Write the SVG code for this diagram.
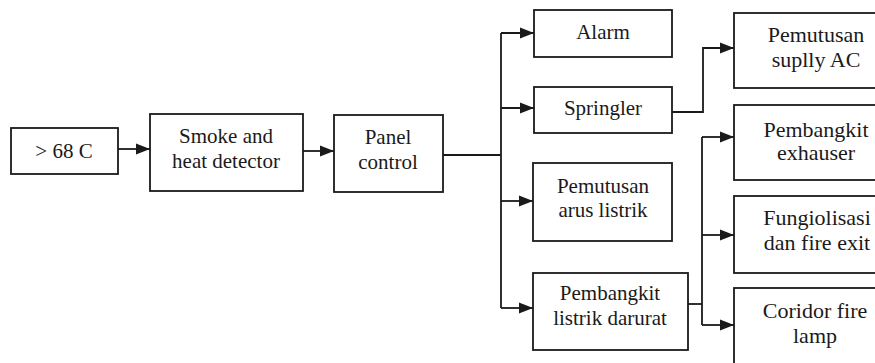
<svg xmlns="http://www.w3.org/2000/svg" width="875" height="363" viewBox="0 0 875 363">
<defs>
<marker id="ah" markerUnits="userSpaceOnUse" markerWidth="16" markerHeight="14" refX="15" refY="7" orient="auto">
<path d="M1,1.5 L15,7 L1,12.5 Z" fill="#1a1a1a"/>
</marker>
<style>
.box{fill:#fff;stroke:#1a1a1a;stroke-width:1.8}
.t{font-family:'Liberation Serif','Times New Roman','DejaVu Serif',serif;fill:#1a1a1a;text-anchor:middle}
.s20{font-size:21px}
.s21{font-size:21px}
.s22{font-size:22px}
.c{fill:none;stroke:#1a1a1a;stroke-width:1.8}
.a{marker-end:url(#ah)}
</style>
</defs>
<rect width="875" height="363" fill="#fff"/>
<g id="connectors">
<path class="c a" d="M118,149 H150"/>
<path class="c a" d="M303,151 H334"/>
<path class="c" d="M443,155 H501"/>
<path class="c" d="M501,33 V308"/>
<path class="c a" d="M501,33 H534"/>
<path class="c a" d="M501,108 H534"/>
<path class="c a" d="M501,201 H533"/>
<path class="c a" d="M501,308 H533"/>
<path class="c a" d="M672,112 H703 V48 H734"/>
<path class="c" d="M688,304 H702"/>
<path class="c" d="M702,137 V325"/>
<path class="c a" d="M702,137 H734"/>
<path class="c a" d="M702,235 H734"/>
<path class="c a" d="M702,325 H734"/>
</g>
<g id="n-temp">
<rect class="box" x="11" y="128" width="107" height="46"/>
<text class="t s20" x="64" y="158">&gt; 68 C</text>
</g>
<g id="n-detector">
<rect class="box" x="150" y="114" width="153" height="77"/>
<text class="t s20" x="226" y="143">Smoke and</text>
<text class="t s20" x="226" y="168">heat detector</text>
</g>
<g id="n-panel">
<rect class="box" x="334" y="115" width="109" height="77"/>
<text class="t s20" x="388" y="144">Panel</text>
<text class="t s20" x="388" y="169">control</text>
</g>
<g id="n-alarm">
<rect class="box" x="534" y="10" width="138" height="47"/>
<text class="t s21" x="603" y="39">Alarm</text>
</g>
<g id="n-springler">
<rect class="box" x="534" y="87" width="138" height="46"/>
<text class="t s21" x="603" y="115">Springler</text>
</g>
<g id="n-pemutusan-arus">
<rect class="box" x="533" y="163" width="139" height="78"/>
<text class="t s21" x="603" y="193">Pemutusan</text>
<text class="t s21" x="603" y="217">arus listrik</text>
</g>
<g id="n-pembangkit-darurat">
<rect class="box" x="533" y="273" width="155" height="77"/>
<text class="t s21" x="610" y="300">Pembangkit</text>
<text class="t s21" x="610" y="325">listrik darurat</text>
</g>
<g id="n-supply-ac">
<rect class="box" x="734" y="13" width="170" height="75"/>
<text class="t s22" x="816" y="42">Pemutusan</text>
<text class="t s22" x="816" y="67">suplly AC</text>
</g>
<g id="n-exhauser">
<rect class="box" x="734" y="105" width="170" height="75"/>
<text class="t s22" x="816" y="137">Pembangkit</text>
<text class="t s22" x="816" y="160">exhauser</text>
</g>
<g id="n-fire-exit">
<rect class="box" x="734" y="196" width="170" height="77"/>
<text class="t s22" x="817" y="225">Fungiolisasi</text>
<text class="t s22" x="817" y="250">dan fire exit</text>
</g>
<g id="n-coridor">
<rect class="box" x="734" y="288" width="170" height="90"/>
<text class="t s22" x="815" y="318">Coridor fire</text>
<text class="t s22" x="815" y="343">lamp</text>
</g>
</svg>
